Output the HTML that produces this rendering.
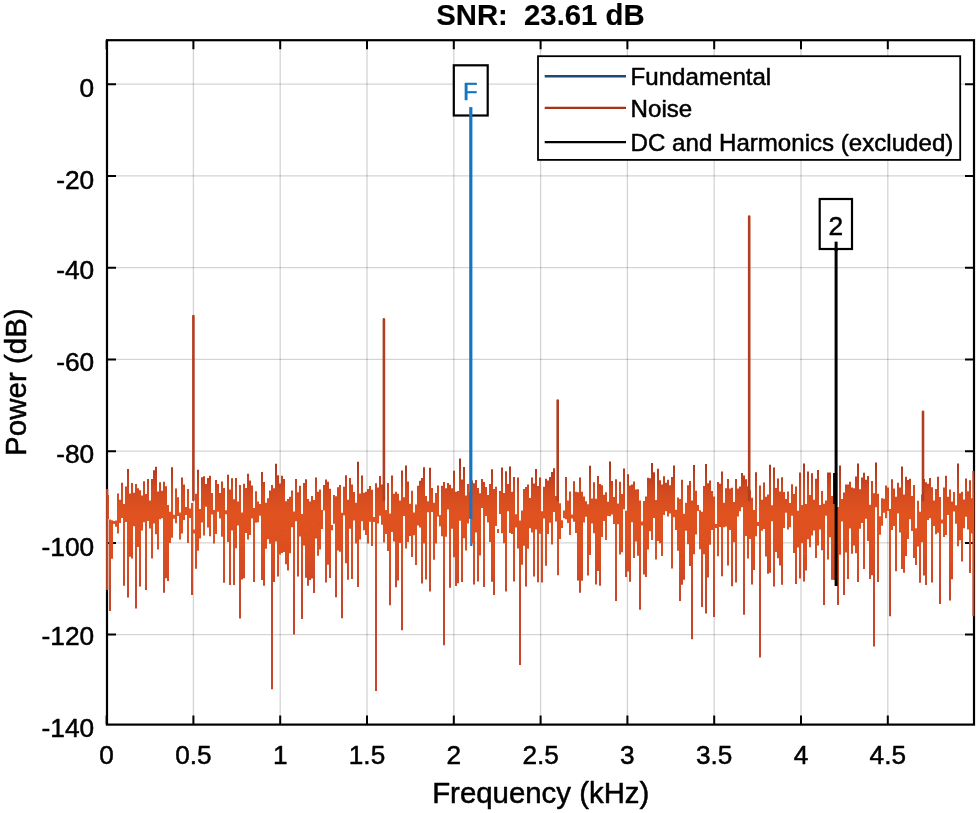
<!DOCTYPE html><html><head><meta charset="utf-8"><style>html,body{margin:0;padding:0;background:#fff;width:980px;height:813px;overflow:hidden}svg{display:block}text{font-family:"Liberation Sans",Arial,sans-serif;white-space:pre;stroke-width:0.5px;stroke-linejoin:round}</style></head><body><svg width="980" height="813" viewBox="0 0 980 813"><rect x="0" y="0" width="980" height="813" fill="#fff"/><path d="M193.4 40.2V724.6M280.2 40.2V724.6M367.0 40.2V724.6M453.8 40.2V724.6M540.6 40.2V724.6M627.4 40.2V724.6M714.2 40.2V724.6M801.0 40.2V724.6M887.8 40.2V724.6" stroke="#000" stroke-opacity="0.17" stroke-width="1.3" fill="none"/><path d="M107.0 84.2H974.0M107.0 175.9H974.0M107.0 267.7H974.0M107.0 359.4H974.0M107.0 451.2H974.0M107.0 542.9H974.0M107.0 634.6H974.0" stroke="#000" stroke-opacity="0.17" stroke-width="1.3" fill="none"/><rect x="107.0" y="40.2" width="867.0" height="684.4" fill="none" stroke="#000" stroke-width="2.2"/><path d="M106.6 724.6v-9M106.6 40.2v9M193.4 724.6v-9M193.4 40.2v9M280.2 724.6v-9M280.2 40.2v9M367.0 724.6v-9M367.0 40.2v9M453.8 724.6v-9M453.8 40.2v9M540.6 724.6v-9M540.6 40.2v9M627.4 724.6v-9M627.4 40.2v9M714.2 724.6v-9M714.2 40.2v9M801.0 724.6v-9M801.0 40.2v9M887.8 724.6v-9M887.8 40.2v9M107.0 84.2h9M974.0 84.2h-9M107.0 175.9h9M974.0 175.9h-9M107.0 267.7h9M974.0 267.7h-9M107.0 359.4h9M974.0 359.4h-9M107.0 451.2h9M974.0 451.2h-9M107.0 542.9h9M974.0 542.9h-9M107.0 634.6h9M974.0 634.6h-9" stroke="#000" stroke-width="2" fill="none"/><path d="M471.3 546V515" stroke="#1476c2" stroke-width="2.2" fill="none"/><defs><linearGradient id="ng" gradientUnits="userSpaceOnUse" x1="0" y1="460" x2="0" y2="640"><stop offset="0" stop-color="#a8321e"/><stop offset="0.17" stop-color="#d24a20"/><stop offset="0.3" stop-color="#e0531f"/><stop offset="0.5" stop-color="#dc4e20"/><stop offset="0.75" stop-color="#c8452a"/><stop offset="1" stop-color="#c8452a"/></linearGradient><filter id="bl" x="-5%" y="-5%" width="110%" height="110%"><feGaussianBlur stdDeviation="0.5"/></filter></defs><path d="M108.0 495.1V519.1M110.0 519.5V529.6M112.0 520.3V526.4M114.0 521.1V523.9M116.0 520.6V526.8M118.0 493.4V533.4M120.0 499.7V523.0M122.0 482.7V517.9M124.0 503.9V556.9M126.0 486.4V522.0M128.0 469.0V545.0M130.0 493.4V525.5M132.0 483.0V542.2M134.0 492.8V525.0M136.0 484.0V542.6M138.0 488.3V544.3M140.0 490.2V560.5M142.0 495.5V530.5M144.0 481.3V522.3M146.0 494.0V536.0M148.0 479.0V520.9M150.0 500.4V528.4M152.0 479.0V537.4M154.0 470.2V523.5M156.0 466.8V529.5M158.0 491.6V534.5M160.0 482.3V519.2M162.0 490.8V518.2M164.0 481.8V547.9M166.0 486.3V530.2M168.0 505.0V530.9M170.0 511.7V527.9M172.0 467.3V537.8M174.0 514.8V518.8M176.0 488.5V523.3M178.0 497.3V515.9M180.0 512.4V539.5M182.0 477.4V529.1M184.0 484.4V520.1M186.0 507.1V514.9M188.0 489.0V541.1M190.0 508.4V517.9M192.0 503.1V528.3M194.0 529.6V533.6M196.0 493.7V530.0M198.0 469.7V548.4M200.0 509.1V538.6M202.0 477.3V522.6M204.0 476.3V535.5M206.0 483.9V506.7M208.0 478.1V527.4M210.0 475.7V534.5M212.0 492.9V514.4M214.0 510.0V535.8M216.0 480.1V533.9M218.0 484.1V511.7M220.0 493.0V518.4M222.0 481.4V536.8M224.0 488.1V544.7M226.0 510.3V514.3M228.0 474.7V542.0M230.0 489.5V527.9M232.0 478.3V530.5M234.0 499.3V554.2M236.0 478.1V526.5M238.0 501.5V525.4M240.0 485.1V526.3M242.0 512.6V544.7M244.0 483.7V539.0M246.0 488.1V532.9M248.0 473.7V525.9M250.0 480.6V534.9M252.0 485.5V518.6M254.0 507.9V548.7M256.0 491.2V522.8M258.0 501.4V522.3M260.0 504.0V515.7M262.0 472.0V553.8M264.0 482.0V524.6M266.0 502.8V543.0M268.0 498.3V539.3M270.0 490.5V536.2M272.0 485.1V558.4M274.0 488.3V537.5M276.0 463.7V534.9M278.0 475.3V553.8M280.0 483.4V554.5M282.0 475.7V552.9M284.0 478.9V537.1M286.0 501.3V533.8M288.0 499.0V527.5M290.0 496.8V549.3M292.0 490.5V527.2M294.0 511.5V538.1M296.0 478.9V521.2M298.0 492.3V534.6M300.0 485.7V536.6M302.0 514.0V551.4M304.0 483.0V534.5M306.0 479.2V529.8M308.0 499.0V553.2M310.0 501.5V535.2M312.0 496.1V532.9M314.0 499.9V524.7M316.0 477.6V538.5M318.0 491.8V546.8M320.0 489.6V549.4M322.0 509.9V529.0M324.0 484.9V510.5M326.0 479.5V551.3M328.0 481.7V527.8M330.0 488.7V549.6M332.0 525.0V530.3M334.0 494.9V523.7M336.0 496.2V533.5M338.0 487.2V545.2M340.0 484.9V551.7M342.0 512.7V553.7M344.0 486.7V515.5M346.0 475.2V556.9M348.0 499.7V529.4M350.0 477.9V527.4M352.0 484.6V532.0M354.0 492.1V520.4M356.0 502.8V528.9M358.0 461.7V532.1M360.0 493.4V530.3M362.0 475.6V521.3M364.0 492.7V530.2M366.0 491.8V535.1M368.0 488.9V543.6M370.0 485.9V521.7M372.0 489.7V546.0M374.0 517.1V522.0M376.0 483.3V547.0M378.0 487.4V523.4M380.0 476.0V515.7M382.0 484.6V524.8M384.0 468.2V533.7M386.0 509.9V534.1M388.0 483.0V550.9M390.0 513.5V533.9M392.0 475.5V532.0M394.0 493.7V541.5M396.0 491.8V556.9M398.0 493.7V556.0M400.0 500.6V532.9M402.0 470.5V532.5M404.0 497.3V516.1M406.0 465.6V548.4M408.0 481.5V532.5M410.0 503.7V535.9M412.0 490.7V557.0M414.0 512.6V535.3M416.0 504.5V535.7M418.0 485.8V525.6M420.0 480.8V527.5M422.0 478.0V541.8M424.0 467.2V543.5M426.0 496.0V539.7M428.0 501.2V512.2M430.0 467.8V525.0M432.0 488.1V512.0M434.0 502.7V543.0M436.0 493.0V525.4M438.0 485.6V516.5M440.0 514.9V526.3M442.0 485.8V536.2M444.0 481.9V535.5M446.0 488.2V524.9M448.0 483.1V509.5M450.0 484.7V552.5M452.0 488.2V528.7M454.0 470.7V527.5M456.0 491.8V534.2M458.0 491.1V539.9M460.0 458.4V520.7M462.0 479.4V526.4M464.0 467.1V538.3M466.0 495.5V550.5M468.0 483.9V523.6M470.0 491.6V518.1M472.0 480.4V535.7M474.0 483.2V539.2M476.0 480.1V532.4M478.0 488.1V555.5M480.0 493.3V555.6M482.0 479.1V508.1M484.0 482.0V554.9M486.0 487.1V515.9M488.0 494.9V522.5M490.0 483.9V525.4M492.0 469.2V527.4M494.0 489.0V540.9M496.0 486.8V526.1M498.0 529.1V533.1M500.0 491.0V514.1M502.0 467.6V533.2M504.0 493.1V543.3M506.0 471.3V527.2M508.0 484.0V511.2M510.0 466.5V530.0M512.0 491.7V534.0M514.0 476.9V537.3M516.0 514.3V527.5M518.0 477.6V531.6M520.0 520.4V553.0M522.0 510.5V555.4M524.0 488.9V545.8M526.0 487.1V547.3M528.0 484.6V534.3M530.0 497.9V528.2M532.0 477.4V530.3M534.0 483.4V539.7M536.0 468.9V529.4M538.0 485.9V542.9M540.0 477.5V533.8M542.0 511.2V539.6M544.0 486.7V518.6M546.0 478.7V558.2M548.0 480.5V534.0M550.0 477.1V522.7M552.0 471.9V538.5M554.0 468.3V512.1M556.0 496.0V521.4M558.0 473.5V546.1M560.0 503.3V526.1M562.0 520.3V528.0M564.0 510.5V518.2M566.0 477.0V519.3M568.0 500.5V522.9M570.0 491.6V535.0M572.0 514.5V518.5M574.0 481.2V521.7M576.0 491.8V533.0M578.0 492.2V529.4M580.0 477.5V557.4M582.0 491.7V543.6M584.0 496.5V522.6M586.0 501.3V516.7M588.0 504.2V524.6M590.0 465.7V546.6M592.0 498.4V523.6M594.0 482.3V526.5M596.0 498.8V527.5M598.0 476.1V553.6M600.0 484.1V544.5M602.0 485.2V534.3M604.0 494.8V521.1M606.0 492.2V526.8M608.0 501.7V516.0M610.0 461.5V516.2M612.0 480.9V514.4M614.0 497.1V523.9M616.0 479.3V536.2M618.0 503.5V524.2M620.0 481.8V545.0M622.0 493.9V552.2M624.0 468.5V509.3M626.0 510.8V549.1M628.0 474.2V556.0M630.0 485.4V528.6M632.0 484.6V522.3M634.0 481.6V526.4M636.0 489.5V541.5M638.0 489.2V537.4M640.0 500.5V532.4M642.0 521.6V525.6M644.0 500.9V526.6M646.0 496.4V531.5M648.0 477.8V528.5M650.0 478.3V531.3M652.0 463.1V540.1M654.0 472.3V517.9M656.0 499.9V555.9M658.0 468.7V541.0M660.0 480.3V526.4M662.0 484.4V541.0M664.0 476.3V515.1M666.0 482.8V511.2M668.0 479.7V516.4M670.0 485.3V513.6M672.0 477.1V544.5M674.0 465.6V517.3M676.0 509.8V527.0M678.0 497.5V546.7M680.0 499.1V528.8M682.0 479.8V559.7M684.0 513.7V548.6M686.0 502.8V530.7M688.0 485.3V544.2M690.0 481.1V558.3M692.0 500.5V548.2M694.0 465.1V540.9M696.0 490.7V526.2M698.0 504.9V511.0M700.0 510.3V549.3M702.0 511.8V533.4M704.0 486.0V538.7M706.0 463.9V548.4M708.0 483.2V546.9M710.0 480.4V544.8M712.0 490.9V530.0M714.0 496.5V529.5M716.0 524.0V528.0M718.0 482.1V527.9M720.0 483.7V526.9M722.0 471.6V543.2M724.0 502.8V527.2M726.0 488.3V526.5M728.0 479.0V553.9M730.0 488.4V530.0M732.0 487.8V545.2M734.0 501.9V542.3M736.0 478.9V530.2M738.0 488.6V516.6M740.0 486.5V511.2M742.0 473.0V507.2M744.0 475.6V543.7M746.0 479.3V536.1M748.0 486.2V528.5M750.0 490.2V539.1M752.0 497.7V537.7M754.0 510.0V540.6M756.0 472.2V536.2M758.0 522.1V526.1M760.0 485.4V531.0M762.0 499.7V530.7M764.0 482.6V529.0M766.0 496.8V556.5M768.0 494.5V542.8M770.0 464.8V540.5M772.0 505.2V521.3M774.0 467.4V552.6M776.0 488.1V530.8M778.0 478.5V536.2M780.0 491.4V556.0M782.0 477.2V531.6M784.0 492.0V527.9M786.0 499.1V512.7M788.0 491.5V529.5M790.0 503.1V527.3M792.0 484.3V515.7M794.0 493.9V528.2M796.0 486.6V554.7M798.0 510.7V537.3M800.0 472.5V544.2M802.0 505.0V543.3M804.0 463.4V553.7M806.0 504.1V553.7M808.0 471.5V536.6M810.0 494.9V540.3M812.0 473.2V525.6M814.0 499.7V530.5M816.0 478.7V543.6M818.0 470.0V545.6M820.0 505.0V529.5M822.0 490.9V539.8M824.0 503.7V532.4M826.0 500.4V515.8M828.0 472.4V557.0M830.0 472.6V537.3M832.0 495.9V538.3M834.0 503.6V533.3M836.0 477.2V516.0M838.0 507.1V548.0M840.0 465.6V544.4M842.0 499.0V521.4M844.0 492.6V542.2M846.0 484.5V550.1M848.0 484.4V541.9M850.0 481.7V528.6M852.0 487.5V553.8M854.0 488.3V545.6M856.0 476.6V535.1M858.0 463.4V534.7M860.0 489.2V525.0M862.0 477.5V522.9M864.0 472.8V558.8M866.0 479.7V518.7M868.0 475.9V525.6M870.0 504.7V534.3M872.0 481.1V555.2M874.0 493.3V545.7M876.0 462.4V507.3M878.0 493.7V532.8M880.0 516.3V534.4M882.0 498.2V525.8M884.0 498.8V512.7M886.0 485.6V518.2M888.0 487.6V511.1M890.0 508.9V547.2M892.0 479.2V530.0M894.0 488.5V525.9M896.0 496.7V551.1M898.0 482.8V513.6M900.0 487.4V532.6M902.0 466.5V529.7M904.0 494.4V542.3M906.0 476.7V527.2M908.0 480.0V539.0M910.0 478.7V519.2M912.0 496.1V531.0M914.0 485.0V554.1M916.0 528.2V548.4M918.0 500.8V528.4M920.0 511.7V536.4M922.0 494.6V533.0M924.0 478.9V546.0M926.0 482.3V553.8M928.0 483.7V519.9M930.0 477.9V518.3M932.0 487.2V532.7M934.0 500.4V526.0M936.0 489.1V534.3M938.0 476.7V532.7M940.0 496.9V527.1M942.0 519.5V523.5M944.0 487.5V525.2M946.0 475.8V535.1M948.0 496.8V514.9M950.0 489.6V560.7M952.0 501.4V527.2M954.0 491.9V511.5M956.0 505.2V523.8M958.0 463.6V546.1M960.0 493.3V540.3M962.0 491.7V543.7M964.0 499.6V528.2M966.0 478.5V516.7M968.0 491.2V526.0M970.0 480.3V532.9M972.0 498.2V533.5M973.4 471.0V550.4" fill="none" stroke="url(#ng)" stroke-width="2" stroke-linecap="butt"/><path d="M110.0 529.1V611.0M112.0 525.9V558.8M124.0 556.4V585.7M128.0 544.5V597.6M130.0 525.0V556.8M132.0 541.7V558.6M134.0 524.5V526.3M136.0 542.1V608.6M138.0 543.8V547.0M140.0 560.0V586.4M146.0 535.5V590.0M152.0 536.9V558.5M156.0 529.0V534.3M158.0 534.0V549.4M164.0 547.4V592.7M166.0 529.7V578.3M168.0 530.4V581.0M170.0 527.4V542.9M182.0 528.6V533.5M188.0 540.6V543.1M192.0 527.8V595.0M196.0 529.5V568.8M198.0 547.9V550.8M210.0 534.0V536.2M214.0 535.3V543.6M224.0 544.2V582.8M230.0 527.4V585.0M234.0 553.7V585.0M236.0 526.0V548.2M240.0 525.8V618.4M242.0 544.2V579.4M244.0 538.5V578.2M248.0 525.4V539.4M254.0 548.2V581.9M262.0 553.3V580.0M264.0 524.1V585.7M266.0 542.5V548.8M270.0 535.7V543.7M272.0 557.9V689.3M274.0 537.0V582.0M276.0 534.4V541.6M278.0 553.3V576.6M284.0 536.6V552.1M286.0 533.3V564.3M288.0 527.0V570.5M290.0 548.8V553.3M294.0 537.6V634.6M298.0 534.1V576.6M302.0 550.9V619.0M304.0 534.0V545.4M306.0 529.3V577.7M308.0 552.7V585.8M310.0 534.7V580.0M312.0 532.4V578.4M314.0 524.2V593.0M318.0 546.3V555.8M326.0 550.8V582.6M328.0 527.3V564.7M330.0 549.1V578.0M336.0 533.0V597.3M338.0 544.7V550.5M342.0 553.2V618.2M346.0 556.4V563.2M348.0 528.9V579.7M350.0 526.9V528.7M352.0 531.5V578.9M356.0 528.4V543.6M358.0 531.6V587.0M360.0 529.8V539.6M376.0 546.5V691.0M384.0 533.2V542.6M390.0 533.4V605.2M396.0 556.4V587.2M398.0 555.5V580.6M400.0 532.4V542.9M402.0 532.0V630.3M408.0 532.0V542.1M416.0 535.2V564.9M422.0 541.3V583.5M426.0 539.2V579.6M430.0 524.5V591.4M434.0 542.5V559.8M436.0 524.9V543.6M444.0 535.0V645.3M446.0 524.4V536.7M450.0 552.0V587.7M454.0 527.0V557.3M456.0 533.7V586.0M458.0 539.4V583.2M462.0 525.9V582.1M472.0 535.2V543.6M474.0 538.7V584.6M478.0 555.0V581.4M484.0 554.4V586.9M490.0 524.9V542.1M492.0 526.9V581.8M494.0 540.4V595.0M506.0 526.7V591.4M510.0 529.5V533.1M514.0 536.8V581.5M518.0 531.1V548.5M520.0 552.5V664.9M522.0 554.9V564.7M526.0 546.8V586.6M528.0 533.8V548.8M532.0 529.8V532.5M534.0 539.2V576.6M538.0 542.4V582.3M542.0 539.1V582.6M546.0 557.7V565.7M552.0 538.0V544.6M558.0 545.6V575.3M560.0 525.6V539.0M578.0 528.9V580.5M580.0 556.9V592.7M582.0 543.1V580.7M588.0 524.1V575.6M590.0 546.1V554.9M594.0 526.0V533.3M596.0 527.0V584.5M598.0 553.1V571.0M600.0 544.0V585.7M602.0 533.8V537.1M606.0 526.3V539.9M616.0 535.7V601.0M620.0 544.5V554.5M626.0 548.6V577.0M628.0 555.5V571.4M630.0 528.1V581.7M634.0 525.9V558.0M638.0 536.9V555.7M640.0 531.9V609.8M644.0 526.1V574.5M646.0 531.0V577.0M648.0 528.0V549.5M656.0 555.4V559.5M660.0 525.9V543.2M662.0 540.5V555.9M672.0 544.0V568.6M676.0 526.5V529.9M678.0 546.2V550.7M680.0 528.3V601.0M682.0 559.2V584.8M684.0 548.1V579.8M690.0 557.8V566.0M692.0 547.7V639.2M694.0 540.4V554.3M696.0 525.7V534.4M702.0 532.9V607.0M704.0 538.2V554.3M706.0 547.9V613.5M708.0 546.4V577.4M714.0 529.0V617.0M718.0 527.4V556.2M722.0 542.7V576.3M728.0 553.4V565.6M732.0 544.7V586.3M736.0 529.7V582.5M744.0 543.2V614.7M748.0 528.0V558.4M752.0 537.2V584.6M754.0 540.1V570.0M760.0 530.5V657.6M768.0 542.3V573.8M770.0 540.0V572.8M774.0 552.1V586.5M776.0 530.3V552.1M778.0 535.7V558.3M780.0 555.5V565.6M782.0 531.1V584.7M794.0 527.7V552.9M796.0 554.2V584.0M798.0 536.8V547.6M800.0 543.7V578.5M804.0 553.2V581.5M806.0 553.2V570.6M808.0 536.1V539.2M810.0 539.8V547.2M812.0 525.1V535.6M816.0 543.1V558.1M822.0 539.3V550.3M824.0 531.9V605.0M828.0 556.5V559.5M832.0 537.8V579.8M834.0 532.8V580.0M838.0 547.5V605.0M840.0 543.9V554.7M844.0 541.7V595.0M846.0 549.6V552.4M848.0 541.4V579.0M856.0 534.6V553.2M858.0 534.2V581.9M860.0 524.5V528.7M864.0 558.3V569.1M868.0 525.1V541.0M870.0 533.8V579.1M872.0 554.7V575.3M874.0 545.2V646.6M878.0 532.3V582.0M880.0 533.9V534.5M890.0 546.7V616.3M896.0 550.6V571.2M902.0 529.2V568.9M904.0 541.8V572.8M906.0 526.7V555.9M914.0 553.6V557.9M916.0 547.9V565.1M918.0 527.9V546.4M920.0 535.9V582.7M922.0 532.5V542.2M924.0 545.5V575.4M926.0 553.3V584.9M932.0 532.2V582.4M940.0 526.6V604.0M944.0 524.7V536.9M950.0 560.2V600.6M952.0 526.7V579.2M958.0 545.6V546.2M962.0 543.2V561.6M968.0 525.5V529.5M970.0 532.4V572.9M973.4 549.9V616.3" fill="none" stroke="url(#ng)" stroke-width="2" stroke-linecap="butt"/><path d="M107.2 489V590" stroke="#c24a28" stroke-width="2.2" fill="none"/><path d="M193.4 500V316.0M383.9 500V319.2M557.7 500V400.6M749.2 500V216.6M923.0 500V411.7" stroke="#b23e22" stroke-width="2.6" stroke-linecap="round" fill="none"/><path d="M470.8 519V107.1" stroke="#1476c2" stroke-width="3.2" fill="none"/><path d="M836.1 586V241.6" stroke="#000" stroke-width="3.0" fill="none"/><path d="M835.1 504V473" stroke="#000" stroke-width="4" fill="none"/><text x="106.6" y="763.5" font-size="26.2" text-anchor="middle" fill="#000" stroke="#000">0</text><text x="193.4" y="763.5" font-size="26.2" text-anchor="middle" fill="#000" stroke="#000">0.5</text><text x="280.2" y="763.5" font-size="26.2" text-anchor="middle" fill="#000" stroke="#000">1</text><text x="367.0" y="763.5" font-size="26.2" text-anchor="middle" fill="#000" stroke="#000">1.5</text><text x="453.8" y="763.5" font-size="26.2" text-anchor="middle" fill="#000" stroke="#000">2</text><text x="540.6" y="763.5" font-size="26.2" text-anchor="middle" fill="#000" stroke="#000">2.5</text><text x="627.4" y="763.5" font-size="26.2" text-anchor="middle" fill="#000" stroke="#000">3</text><text x="714.2" y="763.5" font-size="26.2" text-anchor="middle" fill="#000" stroke="#000">3.5</text><text x="801.0" y="763.5" font-size="26.2" text-anchor="middle" fill="#000" stroke="#000">4</text><text x="887.8" y="763.5" font-size="26.2" text-anchor="middle" fill="#000" stroke="#000">4.5</text><text x="94.2" y="97.1" font-size="26.3" text-anchor="end" fill="#000" stroke="#000">0</text><text x="94.2" y="189.0" font-size="26.3" text-anchor="end" fill="#000" stroke="#000">-20</text><text x="94.2" y="279.2" font-size="26.3" text-anchor="end" fill="#000" stroke="#000">-40</text><text x="94.2" y="371.2" font-size="26.3" text-anchor="end" fill="#000" stroke="#000">-60</text><text x="94.2" y="463.2" font-size="26.3" text-anchor="end" fill="#000" stroke="#000">-80</text><text x="94.2" y="555.5" font-size="26.3" text-anchor="end" fill="#000" stroke="#000">-100</text><text x="94.2" y="645.2" font-size="26.3" text-anchor="end" fill="#000" stroke="#000">-120</text><text x="94.2" y="737.4" font-size="26.3" text-anchor="end" fill="#000" stroke="#000">-140</text><text x="540.75" y="803.3" font-size="29.4" text-anchor="middle" fill="#000" stroke="#000">Frequency (kHz)</text><text transform="translate(25.5,382.15) rotate(-90)" x="0" y="0" font-size="29.5" text-anchor="middle" fill="#000" stroke="#000">Power (dB)</text><text x="540.4" y="24.6" font-size="29.3" font-weight="bold" text-anchor="middle" fill="#000" stroke="#000" style="stroke-width:0.15px">SNR:  23.61 dB</text><rect x="453.8" y="65.3" width="33.9" height="50.2" fill="#fff" stroke="#000" stroke-width="2.2"/><text x="463.05" y="99.8" font-size="23.8" fill="#1476c2" stroke="#1476c2">F</text><path d="M470.8 107.1V117" stroke="#1476c2" stroke-width="3.2"/><rect x="819.7" y="199" width="32.3" height="50" fill="#fff" stroke="#000" stroke-width="2.2"/><text x="828.5" y="235.0" font-size="26.3" fill="#000" stroke="#000">2</text><path d="M836.1 241.6V251" stroke="#000" stroke-width="3.0"/><rect x="538" y="56.2" width="422.2" height="103.7" fill="#fff" stroke="#000" stroke-width="1.8"/><path d="M544.7 76.3H626" stroke="#1c4a72" stroke-width="2.4"/><path d="M544.7 107.9H626" stroke="#a83216" stroke-width="2.4"/><path d="M544.7 142.1H626" stroke="#000" stroke-width="2.4"/><text x="630.6" y="84.8" font-size="24.1" fill="#000" stroke="#000">Fundamental</text><text x="630.6" y="117" font-size="24.1" fill="#000" stroke="#000">Noise</text><text x="630.6" y="150.9" font-size="24.1" fill="#000" stroke="#000">DC and Harmonics (excluded)</text></svg></body></html>
